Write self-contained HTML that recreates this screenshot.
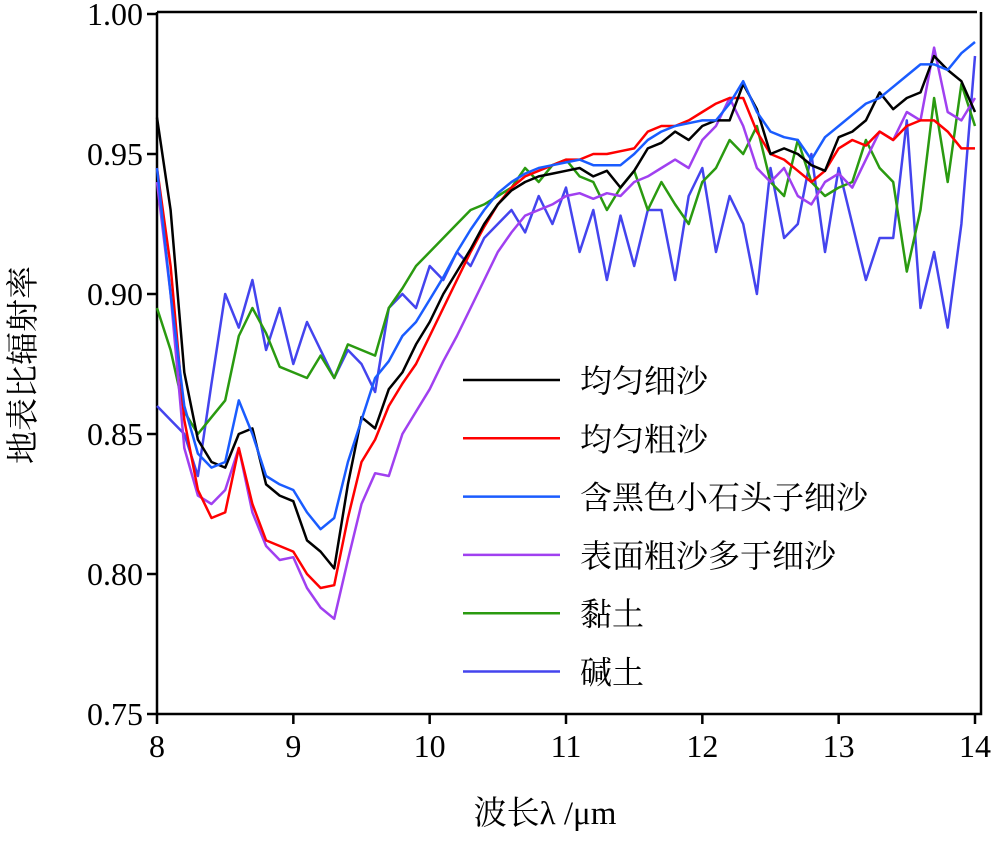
<!DOCTYPE html>
<html><head><meta charset="utf-8"><style>
body{margin:0;background:#fff}
svg text{font-family:"Liberation Serif","Noto Serif CJK SC",serif;fill:#000}
</style></head><body>
<svg width="1000" height="841" xmlns="http://www.w3.org/2000/svg">
<g id="axes"></g><g id="series"></g><g id="legend"></g>
</svg>
<script>
const xs=[];for(let i=0;i<=60;i++)xs.push(+(8+i*0.1).toFixed(1));
const xTicks=[8,9,10,11,12,13,14];
const yTicks=[0.75,0.80,0.85,0.90,0.95,1.00];
const yTickLabels=["0.75","0.80","0.85","0.90","0.95","1.00"];
const names=["均匀细沙","均匀粗沙","含黑色小石头子细沙","表面粗沙多于细沙","黏土","碱土"];
const colors=["#000000","#ff0000","#1a5cff","#a040f0","#2a9a10","#4444ee"];
const sBlack=[.963,.93,.872,.848,.84,.838,.85,.852,.832,.828,.826,.812,.808,.802,.832,.856,.852,.866,.872,.882,.89,.9,.908,.916,.925,.932,.937,.94,.942,.943,.944,.945,.942,.944,.938,.944,.952,.954,.958,.955,.96,.962,.962,.975,.966,.95,.952,.95,.946,.944,.956,.958,.962,.972,.966,.97,.972,.985,.98,.976,.965];
const sRed=[.945,.91,.855,.83,.82,.822,.845,.825,.812,.81,.808,.8,.795,.796,.82,.84,.848,.86,.868,.875,.885,.895,.905,.915,.924,.932,.938,.942,.944,.946,.948,.948,.95,.95,.951,.952,.958,.96,.96,.962,.965,.968,.97,.97,.958,.95,.948,.944,.94,.944,.952,.955,.953,.958,.955,.96,.962,.962,.958,.952,.952];
const sBlue=[.945,.9,.86,.843,.838,.84,.862,.85,.835,.832,.83,.822,.816,.82,.84,.855,.87,.876,.885,.89,.898,.906,.915,.923,.93,.936,.94,.943,.945,.946,.947,.948,.946,.946,.946,.95,.955,.958,.96,.961,.962,.962,.968,.976,.965,.958,.956,.955,.948,.956,.96,.964,.968,.97,.974,.978,.982,.982,.98,.986,.99];
const sPurple=[.94,.9,.845,.828,.825,.83,.845,.822,.81,.805,.806,.795,.788,.784,.805,.825,.836,.835,.85,.858,.866,.876,.885,.895,.905,.915,.922,.928,.93,.932,.935,.936,.934,.936,.935,.94,.942,.945,.948,.945,.955,.96,.97,.96,.945,.94,.945,.935,.932,.94,.943,.938,.948,.958,.955,.965,.962,.988,.965,.962,.97];
const sGreen=[.895,.88,.858,.85,.856,.862,.885,.895,.886,.874,.872,.87,.878,.87,.882,.88,.878,.895,.902,.91,.915,.92,.925,.93,.932,.935,.938,.945,.94,.946,.948,.942,.94,.93,.938,.944,.93,.94,.932,.925,.94,.945,.955,.95,.96,.94,.935,.955,.94,.935,.938,.94,.955,.945,.94,.908,.93,.97,.94,.975,.96];
const sAlk=[.86,.855,.85,.835,.868,.9,.888,.905,.88,.895,.875,.89,.88,.87,.88,.875,.865,.895,.9,.895,.91,.905,.915,.91,.92,.925,.93,.922,.935,.925,.938,.915,.93,.905,.928,.91,.93,.93,.905,.935,.945,.915,.935,.925,.9,.945,.92,.925,.95,.915,.945,.925,.905,.92,.92,.962,.895,.915,.888,.925,.985];
const series=[sBlack,sRed,sBlue,sPurple,sGreen,sAlk];
const X=v=>157+(v-8)*(818/6);
const Y=v=>714-(v-0.75)*2800;
const NS="http://www.w3.org/2000/svg";
function mk(t,a,p){const e=document.createElementNS(NS,t);for(const k in a)e.setAttribute(k,a[k]);p.appendChild(e);return e;}
const ax=document.getElementById('axes');
let e=mk('path',{d:'M157,12 V714 H981 V12 M157,12 H977',fill:'none',stroke:'#000','stroke-width':2.5},ax);

xTicks.forEach(t=>{let l=mk('line',{x1:X(t),x2:X(t),y1:714,y2:724,stroke:'#000','stroke-width':2.5},ax);

let tx=mk('text',{x:X(t),y:757,'font-size':32,'text-anchor':'middle'},ax);tx.textContent=t;
});
yTicks.forEach((t,i)=>{let l=mk('line',{x1:147,x2:157,y1:Y(t),y2:Y(t),stroke:'#000','stroke-width':2.5},ax);

let tx=mk('text',{x:143,y:Y(t)+11,'font-size':32,'text-anchor':'end'},ax);tx.textContent=yTickLabels[i];
});
let xt=mk('text',{x:545,y:824,'font-size':33,'text-anchor':'middle'},ax);xt.textContent='波长λ /μm';

let yt=mk('text',{x:0,y:0,'font-size':33,'text-anchor':'middle',transform:'translate(34,365) rotate(-90)'},ax);yt.textContent='地表比辐射率';

const sg=document.getElementById('series');
const order=[5,4,3,1,0,2];
order.forEach(i=>{const d=series[i].map((v,j)=>(j?'L':'M')+X(xs[j]).toFixed(1)+','+Y(v).toFixed(1)).join('');
let p=mk('path',{d:d,fill:'none',stroke:colors[i],'stroke-width':2.5,'stroke-linejoin':'round'},sg);
});
const lg=document.getElementById('legend');
names.forEach((n,i)=>{const y=380+i*58.3;
let l=mk('line',{x1:463,x2:560,y1:y,y2:y,stroke:colors[i],'stroke-width':2.5},lg);

let t=mk('text',{x:580,y:y+12,'font-size':32},lg);t.textContent=n;
});
</script>
</body></html>
